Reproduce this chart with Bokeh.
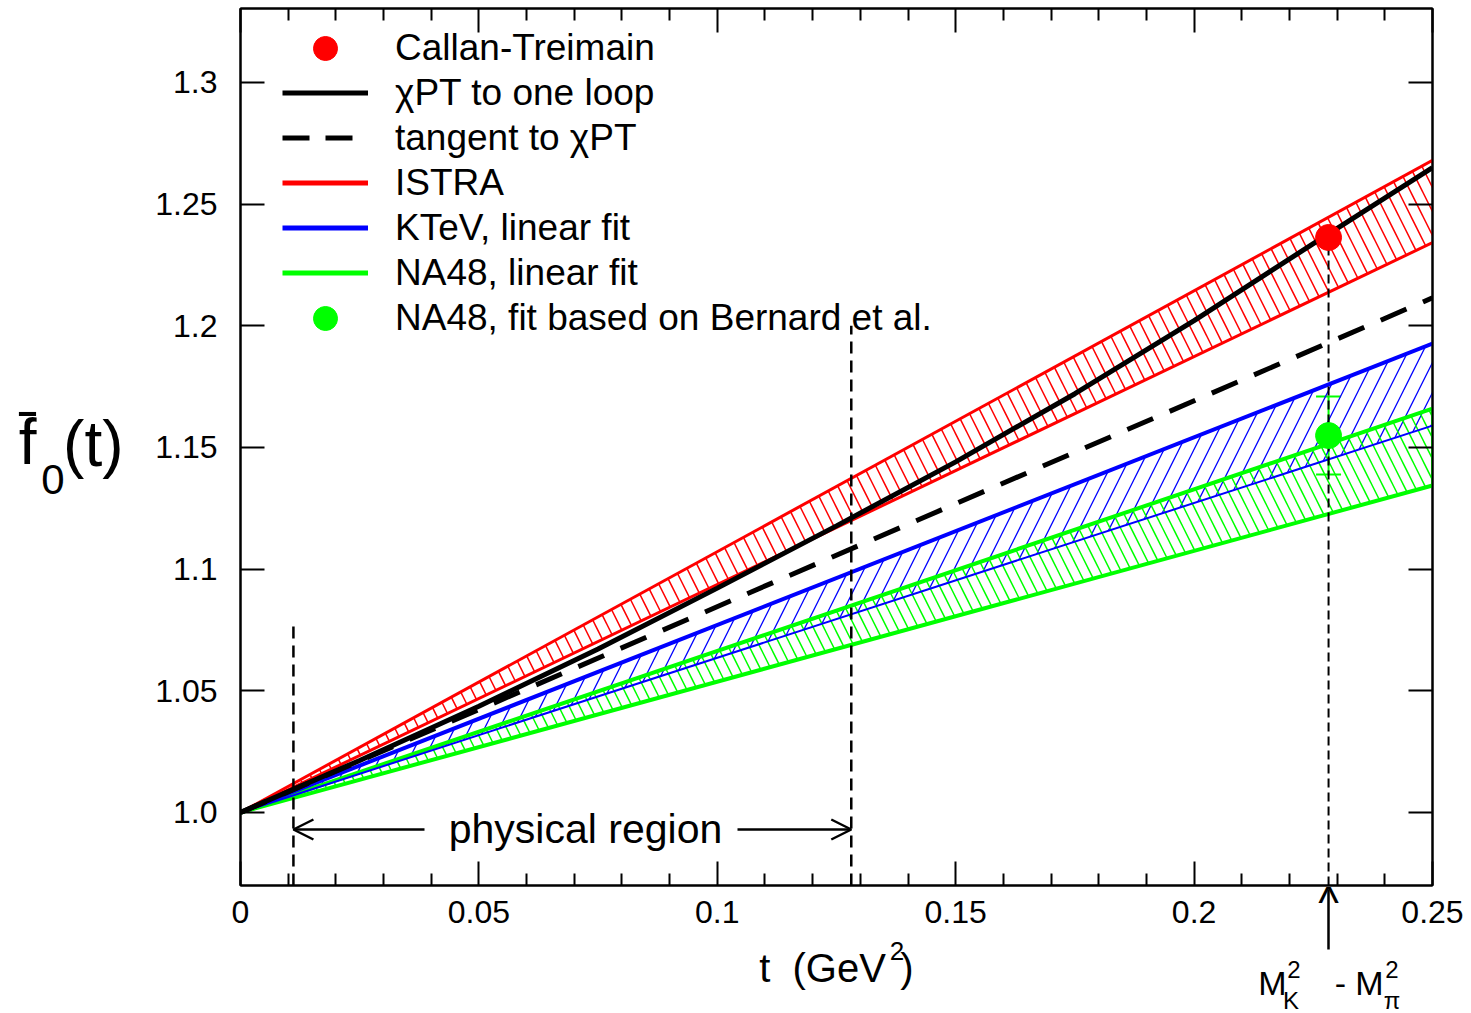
from bokeh.plotting import figure
from bokeh.models import (Range1d, LinearAxis, FixedTicker, Label, Arrow, OpenHead,
                          Whisker, TeeHead, ColumnDataSource, Legend, LegendItem,
                          CustomJSTickFormatter)
from bokeh.embed import file_html
from bokeh.resources import INLINE

# ---------------- data ----------------
t_band = [0.0, 0.25]
istra_hi = [1.0, 1.268]
istra_lo = [1.0, 1.2342]
ktev_hi = [1.0, 1.1927]
ktev_lo = [1.0, 1.159]
na48_hi = [1.0, 1.166]
na48_lo = [1.0, 1.1344]

chpt_t = [0.0, 0.025, 0.05, 0.075, 0.1, 0.125, 0.15, 0.175, 0.2, 0.225, 0.25]
chpt_f = [1.0, 1.0214, 1.0437, 1.0672, 1.0922, 1.1178, 1.1441, 1.1721, 1.2021, 1.2338, 1.2650]

tangent_t = [0.0, 0.25]
tangent_f = [1.0, 1.2115]

t_min = 0.0111          # lower end of physical region
t_max = 0.1281          # upper end of physical region
t_mk = 0.2282           # M_K^2 - M_pi^2
region_tops = [1.078, 1.2]

ct_t = [t_mk]
ct_f = [1.2363]

na48b_t = [t_mk]
na48b_f = [1.1549]
na48b_hi = [1.171]
na48b_lo = [1.1389]

x_ticks = [0.0, 0.05, 0.1, 0.15, 0.2, 0.25]
x_tick_labels = ["0", "0.05", "0.1", "0.15", "0.2", "0.25"]
x_minor_ticks = [0.01, 0.02, 0.03, 0.04, 0.06, 0.07, 0.08, 0.09, 0.11, 0.12, 0.13, 0.14,
                 0.16, 0.17, 0.18, 0.19, 0.21, 0.22, 0.23, 0.24]
y_ticks = [1.0, 1.05, 1.1, 1.15, 1.2, 1.25, 1.3]
y_tick_labels = ["1.0", "1.05", "1.1", "1.15", "1.2", "1.25", "1.3"]

legend_labels = ["Callan-Treimain", "\u03c7PT to one loop", "tangent to \u03c7PT", "ISTRA",
                 "KTeV, linear fit", "NA48, linear fit", "NA48, fit based on Bernard et al."]

# ---------------- figure ----------------
X0, X1 = 0.0, 0.25
Y0, Y1 = 0.970, 1.3304
FONT = "Liberation Sans"
RED, BLUE, GREEN = "#ff0000", "#0000ff", "#00ff00"

p = figure(frame_width=1192, frame_height=877, min_border_left=240, min_border_right=39,
           min_border_top=8, min_border_bottom=128,
           x_range=Range1d(X0, X1), y_range=Range1d(Y0, Y1),
           x_axis_type=None, y_axis_type=None,
           output_backend="svg", toolbar_location=None)
p.outline_line_color = "black"
p.outline_line_width = 2
p.background_fill_color = "white"
p.border_fill_color = "white"

# canvas-pixel helpers for text placement (frame left = 240px, f=1.0 at 812px)
def PX(px):
    return X0 + (px - 240) / 4768.0

def PY(py):
    return 1.0 + (812 - py) / 2433.3

def make_axis(ticks, minor, labels, standoff, show):
    ax = LinearAxis(ticker=FixedTicker(ticks=ticks, minor_ticks=minor),
                    major_tick_in=24, major_tick_out=0,
                    minor_tick_in=12, minor_tick_out=0,
                    axis_line_width=2, major_tick_line_width=2, minor_tick_line_width=2,
                    axis_line_color="black", major_tick_line_color="black",
                    minor_tick_line_color="black")
    if show:
        ax.formatter = CustomJSTickFormatter(args=dict(labels=labels),
                                             code="return labels[index]")
        ax.major_label_standoff = standoff
        ax.major_label_text_font = FONT
        ax.major_label_text_font_size = "32px"
        ax.major_label_text_color = "black"
    else:
        ax.formatter = CustomJSTickFormatter(code="return ''")
        ax.major_label_standoff = 0
        ax.major_label_text_font_size = "1px"
    return ax

def text_axis(side, positions, labels, size, standoff, font=FONT):
    """An axis used only to place text pieces outside the frame."""
    ax = LinearAxis(ticker=FixedTicker(ticks=positions, minor_ticks=[]),
                    formatter=CustomJSTickFormatter(args=dict(labels=labels),
                                                    code="return labels[index]"),
                    major_tick_in=0, major_tick_out=0, minor_tick_in=0, minor_tick_out=0,
                    major_tick_line_color=None, minor_tick_line_color=None,
                    axis_line_color=None, major_label_standoff=standoff,
                    major_label_text_font=font, major_label_text_font_size=f"{size}px",
                    major_label_text_color="black")
    p.add_layout(ax, side)
    return ax

# --- bottom: numbers, M_K^2-M_pi^2 arrow, axis title and the mass expression
p.add_layout(make_axis(x_ticks, x_minor_ticks, x_tick_labels, 15, True), "below")
arrow_ax = text_axis("below", [t_mk], ["^"], 44, -72)
arrow_ax.major_tick_in = 36
arrow_ax.major_tick_out = 24
arrow_ax.major_tick_line_color = "black"
arrow_ax.major_tick_line_width = 2.5
text_axis("below", [PX(896.5)], ["2"], 26, 12)                                  # GeV^2
text_axis("below", [PX(1293.5), PX(1391.5)], ["2", "2"], 24, -2)               # M^2
text_axis("below", [PX(822), PX(906.5)], ["t\u00a0\u00a0(GeV", ")"], 40, -35)  # t (GeV^2)
text_axis("below", [PX(1272), PX(1340), PX(1369)], ["M", "-", "M"], 34, -29)
text_axis("below", [PX(1290.5), PX(1391.5)], ["K", "\u03c0"], 24, -18)

p.add_layout(make_axis(x_ticks, x_minor_ticks, x_tick_labels, 0, False), "above")

# --- left: numbers, then f-bar_0(t)
p.add_layout(make_axis(y_ticks, [], y_tick_labels, 23, True), "left")
text_axis("left", [PY(444)], ["(t)"], 64, 29)
text_axis("left", [PY(479)], ["0"], 42, -4)
text_axis("left", [PY(442)], ["f\u0304"], 64, 2)

p.add_layout(make_axis(y_ticks, [], y_tick_labels, 0, False), "right")

# ---------------- hatched bands ----------------
p.varea(x=t_band, y1=istra_lo, y2=istra_hi, fill_alpha=0, hatch_pattern="left_diagonal_line",
        hatch_color=RED, hatch_scale=24, hatch_weight=1.5)
p.varea(x=t_band, y1=ktev_lo, y2=ktev_hi, fill_alpha=0, hatch_pattern="right_diagonal_line",
        hatch_color=BLUE, hatch_scale=30, hatch_weight=1.3)
p.varea(x=t_band, y1=na48_lo, y2=na48_hi, fill_alpha=0, hatch_pattern="left_diagonal_line",
        hatch_color=GREEN, hatch_scale=21, hatch_weight=1.5)

# band edges
p.line(t_band, na48_hi, line_color=GREEN, line_width=4)
p.line(t_band, na48_lo, line_color=GREEN, line_width=4)
p.segment(x0=[t_band[-1]], y0=[na48_lo[-1]], x1=[t_band[-1]], y1=[na48_hi[-1]],
          line_color=GREEN, line_width=3)
p.line(t_band, ktev_hi, line_color=BLUE, line_width=4)
p.line(t_band, ktev_lo, line_color=BLUE, line_width=2)
p.line(t_band, istra_hi, line_color=RED, line_width=3)
p.line(t_band, istra_lo, line_color=RED, line_width=3)

# chiPT and its tangent
p.line(tangent_t, tangent_f, line_color="black", line_width=5, line_dash="28 18")
p.line(chpt_t, chpt_f, line_color="black", line_width=5)

# vertical dashed lines
p.segment(x0=[t_min, t_max], y0=[Y0, Y0], x1=[t_min, t_max], y1=region_tops,
          line_color="black", line_width=2.5, line_dash="12 7")
p.segment(x0=ct_t, y0=[Y0], x1=ct_t, y1=ct_f, line_color="black", line_width=2,
          line_dash="9 5")

# points
src_b = ColumnDataSource(dict(t=na48b_t, f=na48b_f, hi=na48b_hi, lo=na48b_lo))
p.add_layout(Whisker(source=src_b, base="t", upper="hi", lower="lo", dimension="height",
                     line_color=GREEN, line_width=2,
                     upper_head=TeeHead(size=25, line_color=GREEN, line_width=2),
                     lower_head=TeeHead(size=25, line_color=GREEN, line_width=2)))
p.scatter(x="t", y="f", source=src_b, size=26, color=GREEN)
p.scatter(ct_t, ct_f, size=26, color=RED)

# ---------------- legend (proxies, drawn off-data) ----------------
nan = float("nan")
r_ct = p.scatter(x=[nan], y=[nan], size=26, color=RED)
r_ch = p.line(x=[nan], y=[nan], line_color="black", line_width=5)
r_tg = p.line(x=[nan], y=[nan], line_color="black", line_width=5, line_dash="27 16")
r_is = p.line(x=[nan], y=[nan], line_color=RED, line_width=5)
r_kt = p.line(x=[nan], y=[nan], line_color=BLUE, line_width=5)
r_na = p.line(x=[nan], y=[nan], line_color=GREEN, line_width=5)
r_nb = p.scatter(x=[nan], y=[nan], size=26, color=GREEN)
rends = [r_ct, r_ch, r_tg, r_is, r_kt, r_na, r_nb]
items = [LegendItem(label=l, renderers=[r]) for l, r in zip(legend_labels, rends)]

def add_legend(its, loc, gh):
    p.add_layout(Legend(items=its, location=loc, orientation="vertical",
                        glyph_width=86, glyph_height=gh, label_height=45, spacing=0,
                        label_standoff=27, padding=0, margin=0,
                        label_text_font=FONT, label_text_font_size="37px",
                        label_text_color="black",
                        border_line_alpha=0, background_fill_alpha=0))

add_legend(items[:1], (42, 807), 60)     # marker rows use taller glyph boxes
add_legend(items[1:6], (42, 590), 45)
add_legend(items[6:], (42, 537), 60)

# ---------------- physical region ----------------
p.add_layout(Label(x=PX(585), y=PY(829), text="physical region", text_font=FONT,
                   text_font_size="41px", text_color="black",
                   text_align="center", text_baseline="middle"))
p.add_layout(Arrow(start=None, end=OpenHead(size=20, line_width=2.5, line_color="black"),
                   x_start=PX(424), y_start=PY(829), x_end=t_min, y_end=PY(829),
                   line_width=2.5, line_color="black"))
p.add_layout(Arrow(start=None, end=OpenHead(size=20, line_width=2.5, line_color="black"),
                   x_start=PX(737), y_start=PY(829), x_end=t_max, y_end=PY(829),
                   line_width=2.5, line_color="black"))

open("out.html", "w").write(file_html(p, INLINE))
